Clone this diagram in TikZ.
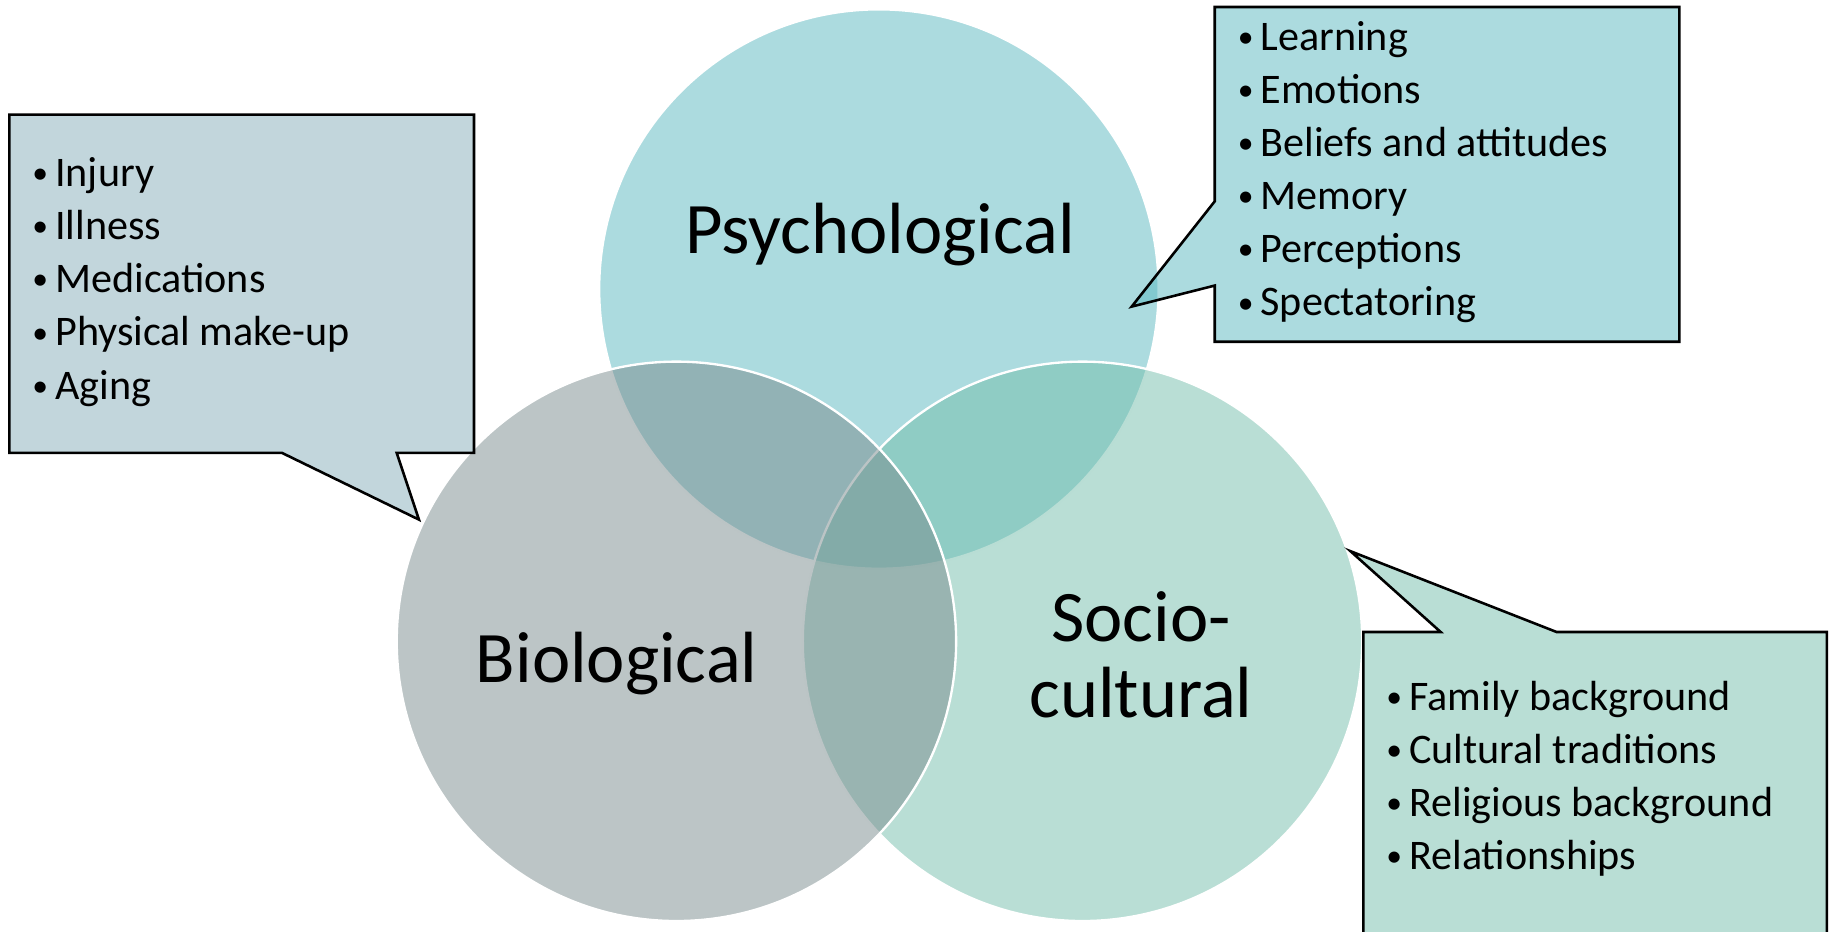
\documentclass[tikz,border=0pt]{standalone}
\usepackage{fontspec}
\setmainfont{Carlito}
\definecolor{psybase}{RGB}{89,183,191}
\definecolor{biobase}{RGB}{121,139,141}
\definecolor{socbase}{RGB}{115,189,171}
\definecolor{callbio}{RGB}{133,173,185}
\newcommand{\vbul}{\makebox[19.5pt][l]{\raisebox{2.5pt}{\fontsize{27}{27}\selectfont •}}}
\tikzset{
  venn/.style={circle, minimum size=478pt, inner sep=0pt, fill opacity=0.5, draw=white, line width=2pt},
  calloutbox/.style={draw=black, line width=2.2pt, line join=miter, fill opacity=0.5},
  listtext/.style={anchor=base west, inner sep=0pt, align=left, font=\fontsize{36}{45.4}\selectfont},
  biglabel/.style={inner sep=0pt, align=center, font=\fontsize{62}{65}\selectfont},
}
\begin{document}
\begin{tikzpicture}[x=1pt,y=1pt]
\useasboundingbox (0,0) rectangle (1568,-796);
\clip (0,0) rectangle (1568,-796);
% circles: psychological, socio-cultural, biological
\node[venn, fill=psybase] (psy) at (751,-247) {};
\node[venn, fill=socbase] (soc) at (925,-548) {};
\node[venn, fill=biobase] (bio) at (578,-548) {};
% labels
\node[biglabel, anchor=base] (psylab) at (752,-217) {Psychological};
\node[biglabel, anchor=base] (biolab) at (527,-583) {Biological};
\node[biglabel, anchor=base] (soclab) at (975,-613) {Socio-\\cultural};
% callouts
\coordinate (tipbio) at (358,-444);
\coordinate (tippsy) at (967,-262);
\coordinate (tipsoc) at (1154,-471);
\path[calloutbox, fill=callbio] (8,-98) -- (405,-98) -- (405,-387) -- (339,-387) -- (tipbio) -- (241,-387) -- (8,-387) -- cycle;
\path[calloutbox, fill=psybase] (1038,-6) -- (1435,-6) -- (1435,-292) -- (1038,-292) -- (1038,-244) -- (tippsy) -- (1038,-172) -- cycle;
\path[calloutbox, fill=socbase] (1165,-540) -- (1231,-540) -- (tipsoc) -- (1330,-540) -- (1561,-540) -- (1561,-820) -- (1165,-820) -- cycle;
% callout texts
\node[listtext] (biolist) at (27.5,-341) {\vbul Injury\\\vbul Illness\\\vbul Medications\\\vbul Physical make-up\\\vbul Aging};
\node[listtext] (psylist) at (1057.5,-270) {\vbul Learning\\\vbul Emotions\\\vbul Beliefs and attitudes\\\vbul Memory\\\vbul Perceptions\\\vbul Spectatoring};
\node[listtext] (soclist) at (1184.5,-743) {\vbul Family background\\\vbul Cultural traditions\\\vbul Religious background\\\vbul Relationships};
\end{tikzpicture}
\end{document}
